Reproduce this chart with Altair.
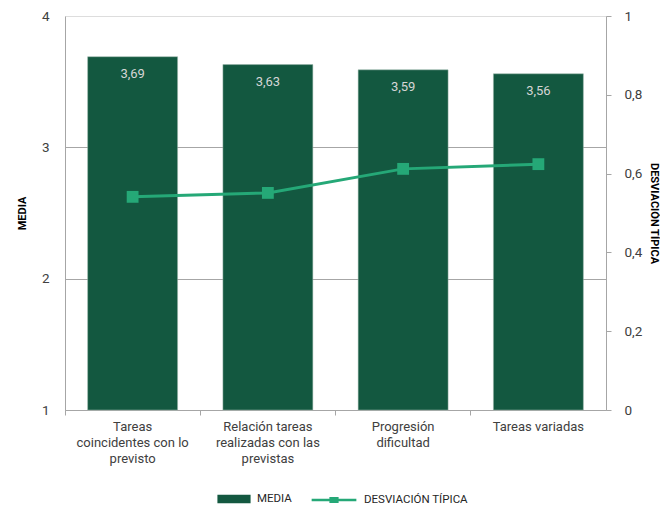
import altair as alt
import pandas as pd

categorias = ["Tareas|coincidentes con lo|previsto",
              "Relación tareas|realizadas con las|previstas",
              "Progresión|dificultad",
              "Tareas variadas"]
media = [3.69, 3.63, 3.59, 3.56]
desviacion = [0.541, 0.551, 0.612, 0.624]

df = pd.DataFrame({"cat": categorias, "media": media, "desv": desviacion})

BAR = "#135840"
LINE = "#25a877"
FONT = "Roboto"
AX = "#a6a6a6"

x_enc = alt.X("cat:N", sort=categorias, title=None,
              scale=alt.Scale(paddingInner=0, paddingOuter=0),
              axis=alt.Axis(bandPosition=0, labelAngle=0,
                            labelExpr="split(datum.label, '|')",
                            labelFontSize=13, labelColor="#404040", labelFont=FONT,
                            labelLineHeight=16, labelPadding=5,
                            domainColor=AX, tickColor=AX, tickSize=5,
                            labelBaseline="top"))

base = alt.Chart(df)

bars = base.mark_bar(width=alt.RelativeBandSize(0.665), stroke="#9fb8ac", strokeWidth=0.5).encode(
    x=x_enc,
    y=alt.Y("media:Q", scale=alt.Scale(domain=[1, 4], nice=False, zero=False, clamp=True),
            axis=alt.Axis(title="MEDIA", values=[1, 2, 3, 4], format="d", grid=True, gridColor=AX,
                          gridOpacity={"condition": {"test": "datum.value == 4", "value": 0}, "value": 1},
                          domainColor=AX, tickSize=0,
                          labelFontSize=13.5, labelColor="#404040", labelFont=FONT, labelPadding=16,
                          titleFontSize=11, titleFont=FONT, titleFontWeight="bold", titleColor="#000000",
                          titlePadding=14)),
    y2=alt.datum(1),
    fill=alt.Fill("leg:N", scale=alt.Scale(domain=["MEDIA"], range=[BAR]),
                  legend=alt.Legend(title=None, orient="none", legendX=152, legendY=466,
                                    symbolType="M-1,-0.25H1V0.25H-1Z",
                                    symbolSize=1100, symbolStrokeWidth=0, labelOffset=6,
                                    labelFontSize=11.5, labelFont=FONT, labelColor="#262626")),
).transform_calculate(leg="'MEDIA'")

labels = base.mark_text(baseline="top", dy=11, fontSize=13, font=FONT, color="#d5d5d5").encode(
    x=alt.X("cat:N", sort=categorias),
    y=alt.Y("media:Q"),
    text="lbl:N",
).transform_calculate(lbl="replace(format(datum.media, '.2f'), '.', ',')")

left = alt.layer(bars, labels)

line = base.mark_line(strokeWidth=3).encode(
    x=alt.X("cat:N", sort=categorias),
    y=alt.Y("desv:Q", scale=alt.Scale(domain=[0, 1], nice=False),
            axis=alt.Axis(title="DESVIACIÓN TÍPICA", orient="right", values=[0, 0.2, 0.4, 0.6, 0.8, 1],
                          grid=False, domainColor=AX, tickColor=AX, tickSize=5,
                          labelExpr="replace(format(datum.value, '~g'), '.', ',')",
                          labelFontSize=13.5, labelColor="#404040", labelFont=FONT, labelPadding=13,
                          titleFontSize=11, titleFont=FONT, titleFontWeight="bold", titleColor="#000000",
                          titlePadding=7)),
    stroke=alt.Stroke("leg:N", scale=alt.Scale(domain=["DESVIACIÓN TÍPICA"], range=[LINE]),
                      legend=alt.Legend(title=None, orient="none", legendX=245, legendY=460,
                                        symbolType="M-1,0H1M-0.15,-0.08H0.15V0.08H-0.15Z",
                                        symbolSize=2000, symbolStrokeWidth=2.5, symbolFillColor=LINE,
                                        labelOffset=6,
                                        labelFontSize=11.5, labelFont=FONT, labelColor="#262626")),
).transform_calculate(leg="'DESVIACIÓN TÍPICA'")

pts = base.mark_square(size=140, opacity=1, color=LINE).encode(
    x=alt.X("cat:N", sort=categorias),
    y=alt.Y("desv:Q"),
)

right = alt.layer(line, pts)

chart = alt.layer(left, right).resolve_scale(y="independent").properties(
    width=541, height=394, padding={"left": 8, "top": 1, "right": 0, "bottom": 0}
).configure_view(stroke=None).configure(font=FONT)

chart.save("out.html", embed_options={"renderer": "svg", "actions": False})
